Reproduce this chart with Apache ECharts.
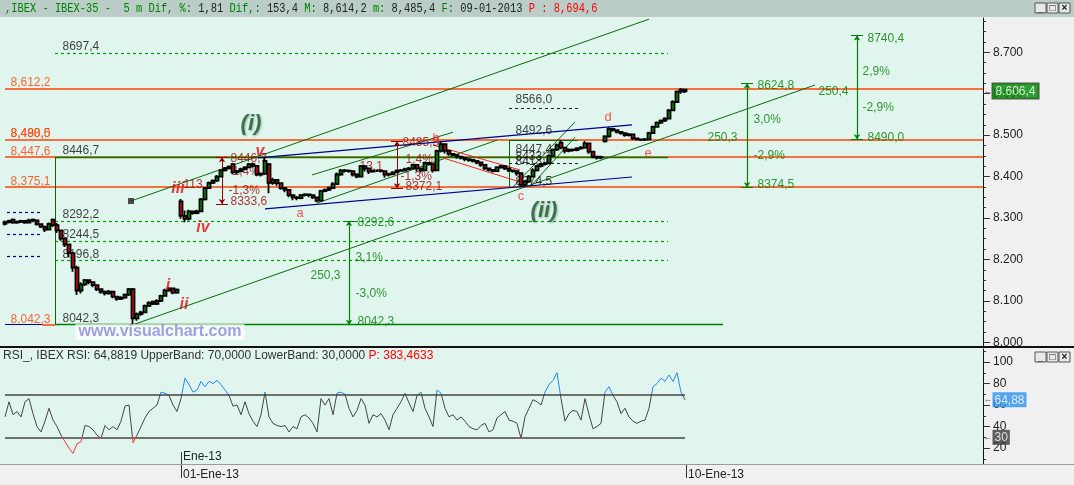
<!DOCTYPE html>
<html><head><meta charset="utf-8">
<script src="https://cdn.jsdelivr.net/npm/echarts@6/dist/echarts.min.js"></script>
<style>html,body{margin:0;padding:0;background:#f0f0f0;overflow:hidden}#c{width:1074px;height:485px}</style>
</head><body><div id="c"></div>
<script>
// ---------------- DATA ----------------
// 5-minute candles, IBEX-35: [open, close, low, high]
const candles = [
[8286,8290,8282,8294],[8290,8293,8287,8296],[8296,8289,8286,8299],[8289,8291,8286,8294],[8291,8293,8288,8296],
[8293,8289,8286,8295],[8289,8294,8287,8298],[8294,8296,8290,8299],[8294,8285,8281,8296],[8285,8279,8276,8287],
[8279,8272,8266,8281],[8272,8286,8270,8289],[8296,8283,8278,8299],[8283,8270,8264,8288],[8270,8250,8245,8272],
[8250,8236,8230,8252],[8236,8215,8205,8238],[8215,8180,8170,8218],[8180,8125,8114,8185],[8125,8140,8118,8145],
[8140,8150,8136,8153],[8150,8145,8140,8152],[8145,8138,8133,8147],[8138,8128,8124,8140],[8128,8122,8117,8130],
[8122,8118,8113,8125],[8118,8122,8115,8126],[8122,8110,8106,8124],[8110,8105,8100,8112],[8105,8108,8102,8111],
[8108,8115,8105,8118],[8115,8128,8112,8131],[8128,8058,8042,8131],[8058,8068,8052,8072],[8068,8072,8064,8076],
[8072,8088,8070,8091],[8088,8095,8085,8099],[8098,8093,8090,8101],[8093,8100,8090,8104],[8100,8112,8097,8115],
[8112,8125,8110,8129],[8125,8130,8122,8133],[8130,8120,8116,8132],[8120,8127,8117,8130],
[8340,8305,8298,8346],[8305,8298,8290,8318],[8298,8316,8294,8320],[8316,8312,8308,8318],[8312,8316,8309,8320],
[8316,8345,8314,8348],[8345,8372,8342,8375],[8372,8385,8370,8388],[8385,8390,8382,8393],[8390,8400,8387,8404],
[8400,8415,8398,8418],[8415,8420,8412,8423],[8420,8424,8417,8427],[8430,8410,8405,8433],[8410,8413,8407,8416],
[8413,8418,8410,8421],[8418,8422,8415,8425],[8422,8430,8420,8433],[8430,8426,8422,8434],[8426,8405,8401,8428],
[8405,8407,8400,8410],[8407,8438,8404,8447],[8430,8385,8360,8433],[8385,8392,8380,8397],[8392,8384,8378,8394],
[8384,8372,8368,8386],[8372,8368,8362,8375],[8368,8355,8350,8370],[8355,8350,8343,8357],[8350,8348,8343,8353],
[8348,8355,8345,8358],[8355,8357,8352,8360],[8357,8355,8350,8359],[8355,8350,8346,8357],[8350,8342,8338,8352],
[8342,8365,8340,8368],[8365,8368,8362,8371],[8368,8372,8365,8376],[8372,8382,8370,8387],[8382,8405,8380,8410],
[8405,8415,8402,8418],[8415,8414,8410,8418],[8414,8413,8409,8417],[8413,8405,8400,8415],[8405,8400,8396,8408],
[8400,8425,8398,8428],[8425,8420,8412,8428],[8420,8412,8406,8422],[8412,8414,8410,8417],[8414,8414,8411,8417],
[8414,8413,8410,8416],[8413,8405,8397,8414],[8405,8406,8400,8409],[8406,8410,8403,8413],[8410,8414,8408,8417],
[8414,8415,8412,8418],[8415,8418,8412,8421],[8418,8420,8415,8423],[8420,8428,8418,8431],[8428,8420,8412,8430],
[8420,8415,8410,8422],[8415,8433,8413,8436],[8433,8430,8426,8435],[8430,8415,8410,8432],[8415,8462,8413,8465],
[8462,8478,8458,8485],[8478,8462,8456,8480],[8462,8455,8450,8464],[8455,8452,8448,8457],[8452,8448,8443,8454],
[8448,8445,8441,8450],[8445,8442,8437,8447],[8442,8440,8436,8444],[8440,8438,8434,8442],[8438,8434,8430,8440],
[8434,8428,8424,8436],[8428,8420,8416,8430],[8420,8416,8412,8422],[8416,8413,8410,8418],[8413,8422,8411,8425],
[8422,8425,8419,8428],[8425,8420,8416,8427],[8420,8415,8411,8422],[8415,8413,8409,8417],[8413,8408,8402,8415],
[8408,8380,8374,8410],[8380,8388,8376,8392],[8388,8400,8385,8404],[8400,8415,8398,8420],[8415,8425,8412,8428],
[8425,8430,8422,8433],[8430,8432,8427,8436],[8432,8450,8430,8453],[8450,8465,8448,8468],[8465,8476,8462,8480],
[8482,8470,8466,8488],[8470,8462,8456,8472],[8462,8465,8459,8468],[8465,8464,8460,8468],[8464,8468,8461,8471],
[8468,8470,8465,8474],[8470,8480,8467,8486],[8480,8460,8455,8482],[8460,8448,8444,8462],[8448,8446,8441,8450],
[8446,8447,8442,8450],[8485,8497,8482,8500],[8497,8515,8494,8519],[8515,8512,8508,8518],[8512,8508,8504,8514],
[8508,8505,8501,8510],[8505,8500,8496,8507],[8500,8502,8497,8505],[8502,8492,8488,8504],[8492,8490,8487,8494],
[8490,8489,8486,8492],[8489,8490,8486,8493],[8490,8505,8488,8508],[8505,8520,8503,8523],[8520,8530,8518,8533],
[8530,8535,8527,8538],[8535,8540,8532,8543],[8540,8560,8538,8563],[8560,8580,8558,8584],[8580,8605,8578,8608],
[8605,8610,8600,8614],[8610,8606,8602,8612]
];
// RSI per bar
const rsi = [
49,63,51,54,49,63,66,52,40,35,45,
57,46,40,32,26,20,15,24,26,41,
40,37,32,29,41,37,40,37,45,59,
60,25,32,40,48,54,57,60,72,71,
69,60,54,66,85,79,72,74,82,77,
82,80,83,79,74,69,59,60,51,63,
52,45,40,51,72,49,43,41,40,41,
35,40,38,49,51,48,43,35,66,60,
66,51,71,72,70,57,49,55,66,60,
43,51,49,52,46,37,51,57,63,71,
62,54,69,72,57,49,40,74,71,57,
49,51,46,49,45,40,38,37,41,43,
35,37,48,51,54,46,45,43,29,49,
57,65,63,60,72,79,83,90,66,45,
52,55,54,46,66,51,38,40,43,72,
77,69,63,52,57,49,45,43,45,46,
57,77,80,85,82,88,82,90,72,64.9
];
const rsiBands = [70, 30];
const lastPrice = 8606.4;
const lastRsi = 64.88;
const priceLabelTicks = [8000,8100,8200,8300,8400,8500,8600,8700];
const priceMinorTicks = [8000,8025,8050,8075,8100,8125,8150,8175,8200,8225,8250,8275,8300,8325,8350,8375,8400,8425,8450,8475,8500,8525,8550,8575,8600,8625,8650,8675,8700,8725,8750,8775];
const rsiLabelTicks = [20,40,60,80,100];
const rsiMinorTicks = [10,20,30,40,50,60,70,80,90,100,110];
const dateTicks = [44, 170.25];
const dateLabels = ['01-Ene-13','10-Ene-13'];
const monthTick = [44];
const monthLabel = 'Ene-13';

// horizontal levels (price) drawn across the whole chart
const orangeLevels = [8612.2, 8488.5, 8447.6, 8375.1];
// fib levels: [price, fromBar, toBar]
const greenSolidLevels = [[8446.7, 12.5, 165.75], [8042.3, 12.5, 179.5]];
const greenDashedLevels = [[8697.4, 12.5, 165.75], [8292.2, 12.5, 165.75], [8244.5, 12.5, 165.75], [8196.8, 12.5, 165.75]];
const blueDashedLevels = [[8314.5, 0.5, 8.75], [8261.4, 0.5, 8.75], [8207.0, 0.5, 8.75]];
const blackDashedLevels = [[8566.0, 126, 143.25], [8433.0, 126, 143.25]];
// trend lines: [[bar, price], [bar, price]]
const channelLines = [
  [[31.5, 8341], [161, 8780]],
  [[32, 8042.3], [202.5, 8621]],
  [[76.75, 8404], [112, 8507]],
  [[78, 8336], [123, 8488]],
  [[127, 8375], [142.5, 8532]],
  [[131.25, 8375], [142.5, 8495]],
  [[12.5, 8446.7], [12.5, 8042.3]],
  [[126, 8488], [143.25, 8488]],
  [[126, 8488], [126, 8374.5]]
];
const blueLines = [
  [[63.25, 8445], [156.75, 8525]],
  [[65, 8322], [156.75, 8399]],
  [[0, 8042.3], [9.25, 8042.3]]
];
const orangeShort = [[[9.25, 8042.3], [12.5, 8042.3]]];
const redLines = [
  [[107, 8476], [128.75, 8416]],
  [[109.5, 8445], [128.75, 8387]]
];
// measuring arrows: [bar, top price, bottom price]
const maroonArrows = [[54.25, 8446.7, 8333.6], [98, 8485.3, 8372.1]];
const greenArrows = [[185.5, 8624.8, 8374.5], [213, 8740.4, 8490.0], [86, 8292.6, 8042.3]];
const anchorPoint = [[31.5, 8341]];

// text annotations: [bar, price, text]
const orangeTexts = [[1.25, 8626, '8,612,2'], [1.25, 8503, '8,488,5'], [1.25, 8503, '8,490,0'], [1.25, 8460, '8,447,6'], [1.25, 8387, '8,375,1'], [1.25, 8054, '8,042,3']];
const blackTexts = [[14.25, 8713, '8697,4'], [14.25, 8462, '8446,7'], [14.25, 8307, '8292,2'], [14.25, 8259, '8244,5'], [14.25, 8211, '8196,8'], [14.25, 8056, '8042,3'],
  [127.5, 8585, '8566,0'], [127.5, 8510, '8492,6'], [127.5, 8464, '8447,4'], [127.5, 8449, '8433,1'], [127.5, 8437, '8413,4'], [127.5, 8388, '8374,5']];
const maroonTexts = [[56.25, 8442, '8446,7'], [56.75, 8411, '1,4%'], [55.75, 8365, '-1,3%'], [56.25, 8339, '8333,6'], [44.5, 8380, '113'],
  [99.25, 8481, '8485,3'], [100, 8440, '1,4%'], [98.75, 8399, '-1,3%'], [100, 8375, '8372,1'], [88.5, 8423, '13,1']];
const greenTexts = [[188, 8619, '8624,8'], [187, 8537, '3,0%'], [187, 8450, '-2,9%'], [188, 8380, '8374,5'], [175.5, 8493, '250,3'],
  [215.5, 8734, '8740,4'], [214.25, 8652, '2,9%'], [214.25, 8566, '-2,9%'], [215.5, 8493, '8490,0'], [203.25, 8606, '250,4'],
  [88, 8288, '8292,6'], [87.5, 8203, '3,1%'], [87.5, 8117, '-3,0%'], [88, 8049, '8042,3'], [76.25, 8160, '250,3']];
const waveMajor = [[61.5, 8527, '(i)'], [134.75, 8317, '(ii)']];
const waveMinor = [[63.75, 8461, 'v'], [43.25, 8372, 'iii'], [49.5, 8276, 'iv'], [40.75, 8138, 'i'], [44.75, 8090, 'ii']];
const waveSub = [[73.75, 8312, 'a'], [107.75, 8491, 'b'], [129, 8351, 'c'], [150.75, 8544, 'd'], [160.75, 8457, 'e']];
const watermark = [[38.75, 8025, 'www.visualchart.com']];

// ---------------- CHART ----------------
const FONT = 'Liberation Sans';
const X_MIN = -1.25, X_MAX = 244.5;
const P_MIN = 7991, P_MAX = 8782.8;
const R_MIN = 5.2, R_MAX = 112.1;

const fmtPrice = v => { const s = String(Math.round(v)); return s[0] + '.' + s.slice(1); };
const fmtLast = v => { const s = v.toFixed(1).replace('.', ','); return s[0] + '.' + s.slice(1); };

function segSeries(list, color, width, type, z, sym, xi, yi) {
  return {type: 'lines', coordinateSystem: 'cartesian2d', xAxisIndex: xi || 0, yAxisIndex: yi || 0,
    silent: true, z: z || 2, animation: false, symbol: sym || 'none', symbolSize: 5,
    lineStyle: {color: color, width: width, type: type || 'solid', opacity: 1, curveness: 0},
    data: list.map(c => ({coords: c}))};
}
function textSeries(items, color, o) {
  o = o || {};
  return {type: 'scatter', xAxisIndex: 0, yAxisIndex: 0, symbolSize: 1, silent: true, z: o.z || 4, animation: false,
    itemStyle: {color: 'rgba(0,0,0,0)'},
    data: items.map(t => ({value: [t[0], t[1]], name: t[2]})),
    label: Object.assign({show: true, position: o.pos || 'right', distance: 0, formatter: p => p.name,
      color: color, fontSize: o.size || 12, fontFamily: FONT, fontWeight: o.weight || 'normal', fontStyle: o.style || 'normal'}, o.label || {})};
}
const levelSegs = arr => arr.map(l => [[l[1], l[0]], [l[2], l[0]]]);
const arrowSegs = arr => arr.map(a => [[a[0], a[1]], [a[0], a[2]]]);
const capSegs = arr => arr.flatMap(a => [[[a[0] - 1.5, a[1]], [a[0] + 1.5, a[1]]], [[a[0] - 1.5, a[2]], [a[0] + 1.5, a[2]]]]);

const chart = echarts.init(document.getElementById('c'));
const series = [
  {type: 'candlestick', xAxisIndex: 0, yAxisIndex: 0, z: 5, barWidth: 4, animation: false, silent: true,
    data: candles.map((c, i) => [i, c[0], c[1], c[2], c[3]]), encode: {x: 0, y: [1, 2, 3, 4]},
    itemStyle: {color: '#00b000', color0: '#ff1010', borderColor: '#000', borderColor0: '#000', borderWidth: 1.8}},
  {type: 'line', xAxisIndex: 1, yAxisIndex: 2, z: 5, animation: false, silent: true, symbol: 'none',
    data: rsi.map((v, i) => [i, v]), lineStyle: {width: 1}},
  segSeries(orangeLevels.map(p => [[0, p], [X_MAX, p]]), '#ff4000', 1.5, 'solid', 2),
  segSeries(orangeShort, '#ff4000', 1.5, 'solid', 2),
  segSeries(levelSegs(greenSolidLevels), '#008000', 1.3, 'solid', 3),
  segSeries(levelSegs(greenDashedLevels), '#00a000', 1.2, [3, 3], 3),
  segSeries(levelSegs(blueDashedLevels), '#000090', 1.2, [3, 3], 3),
  segSeries(levelSegs(blackDashedLevels), '#222', 1, [3, 3], 3),
  segSeries(channelLines, '#0a6a0a', 1, 'solid', 3),
  segSeries(blueLines, '#000090', 1.2, 'solid', 3),
  segSeries(redLines, '#ff2020', 1, 'solid', 3),
  segSeries(arrowSegs(maroonArrows), '#990000', 1, 'solid', 3, ['arrow', 'arrow']),
  segSeries(capSegs(maroonArrows), '#990000', 1, 'solid', 3),
  segSeries(arrowSegs(greenArrows), '#008000', 1.2, 'solid', 3, ['arrow', 'arrow']),
  segSeries(capSegs(greenArrows), '#008000', 1.2, 'solid', 3),
  segSeries(rsiBands.map(b => [[0, b], [170, b]]), '#444', 1.5, 'solid', 3, 'none', 1, 2),
  {type: 'scatter', xAxisIndex: 0, yAxisIndex: 0, symbol: 'rect', symbolSize: 6, z: 6, silent: true, animation: false,
    itemStyle: {color: '#222'}, data: anchorPoint},
  textSeries(orangeTexts, '#ff4000'),
  textSeries(blackTexts, '#111'),
  textSeries(maroonTexts, '#990000'),
  textSeries(greenTexts, '#008000'),
  textSeries(waveMajor, '#1d5a2c', {pos: 'inside', size: 22, weight: 'bold', style: 'italic', z: 7,
    label: {textShadowColor: 'rgba(60,120,80,0.6)', textShadowBlur: 2, textShadowOffsetX: 1, textShadowOffsetY: 1}}),
  textSeries(waveMinor, '#e01010', {pos: 'inside', size: 16, weight: 'bold', style: 'italic', z: 7}),
  textSeries(waveSub, '#ff2a2a', {pos: 'inside', size: 13, z: 7}),
  textSeries(watermark, '#8a8ad8', {pos: 'inside', size: 16, weight: 'bold', z: 7,
    label: {backgroundColor: 'rgba(255,255,255,0.85)', padding: [0, 3]}}),
  // last value boxes on the axes
  {type: 'scatter', xAxisIndex: 0, yAxisIndex: 0, symbolSize: 1, clip: false, silent: true, z: 8, animation: false,
    itemStyle: {color: 'rgba(0,0,0,0)'}, data: [[X_MAX, lastPrice]],
    label: {show: true, position: 'right', distance: 0, formatter: () => '{a|←}{b|' + fmtLast(lastPrice) + '}',
      rich: {a: {color: '#444', fontSize: 9, fontFamily: FONT},
             b: {color: '#fff', backgroundColor: '#008a00', borderColor: '#333', borderWidth: 1, padding: [2, 3, 1, 3], fontSize: 12, fontFamily: FONT}}}},
  {type: 'scatter', xAxisIndex: 1, yAxisIndex: 2, symbolSize: 1, clip: false, silent: true, z: 8, animation: false,
    itemStyle: {color: 'rgba(0,0,0,0)'}, data: [[X_MAX, lastRsi], [X_MAX, rsiBands[1]]],
    label: {show: true, position: 'right', distance: 0,
      formatter: p => p.dataIndex === 0 ? '{a|←}{b|' + lastRsi.toFixed(2).replace('.', ',') + '}' : '{a|←}{c|' + rsiBands[1] + '}',
      rich: {a: {color: '#444', fontSize: 9, fontFamily: FONT},
             b: {color: '#fff', backgroundColor: '#2f94ee', padding: [2, 2, 1, 2], fontSize: 12, fontFamily: FONT},
             c: {color: '#fff', backgroundColor: '#3a3a3a', padding: [2, 2, 1, 2], fontSize: 12, fontFamily: FONT}}}}
];

function winButtons(y) {
  const els = [];
  const glyphs = ['_', '□', '×'];
  for (let k = 0; k < 3; k++) {
    els.push({type: 'rect', shape: {x: 1035 + k * 12, y: y, width: 11, height: 10}, style: {fill: '#e8e8e8', stroke: '#555', lineWidth: 1}, z: 100});
    els.push({type: 'text', x: 1040.5 + k * 12, y: y + 5, style: {text: glyphs[k], fill: '#111', font: 'bold 10px ' + FONT, align: 'center', verticalAlign: 'middle'}, z: 101});
  }
  return els;
}

const MONO = '10.4px "Liberation Mono"';
const noZero = show => ({show: show, onZero: false, lineStyle: {color: '#111', width: 1}});
const option = {
  animation: false,
  backgroundColor: '#f0f0f0',
  textStyle: {fontFamily: FONT},
  grid: [
    {left: 0, top: 18, width: 983, height: 328, show: true, backgroundColor: '#e1f5ef', borderWidth: 0},
    {left: 0, top: 349, width: 983, height: 115, show: true, backgroundColor: '#e1f5ef', borderWidth: 0},
    {left: 0, top: 18, width: 983, height: 328, show: false},
    {left: 0, top: 349, width: 983, height: 115, show: false}
  ],
  xAxis: [
    {type: 'value', gridIndex: 0, min: X_MIN, max: X_MAX, show: false, axisLine: noZero(false)},
    {type: 'value', gridIndex: 1, min: X_MIN, max: X_MAX, position: 'bottom',
      axisLine: noZero(false), splitLine: {show: false},
      axisTick: {show: true, customValues: dateTicks, length: 14, lineStyle: {color: '#333'}},
      axisLabel: {show: true, customValues: dateTicks, formatter: v => dateLabels[dateTicks.indexOf(v)], align: 'left', margin: 5, color: '#222', fontSize: 12, padding: [0, 0, 0, 2]}},
    {type: 'value', gridIndex: 1, min: X_MIN, max: X_MAX, position: 'bottom',
      axisLine: noZero(false), splitLine: {show: false},
      axisTick: {show: true, inside: true, customValues: monthTick, length: 12, lineStyle: {color: '#333'}},
      axisLabel: {show: true, inside: true, customValues: monthTick, formatter: () => monthLabel, align: 'left', margin: 1, color: '#222', fontSize: 12, padding: [0, 0, 0, 2]}},
    {type: 'value', gridIndex: 2, min: X_MIN, max: X_MAX, show: false, axisLine: noZero(false)},
    {type: 'value', gridIndex: 3, min: X_MIN, max: X_MAX, show: false, axisLine: noZero(false)}
  ],
  yAxis: [
    {type: 'value', gridIndex: 0, position: 'right', min: P_MIN, max: P_MAX, splitLine: {show: false},
      axisLine: noZero(true),
      axisTick: {show: true, customValues: priceLabelTicks, length: 7, lineStyle: {color: '#333'}},
      axisLabel: {show: true, customValues: priceLabelTicks, formatter: fmtPrice, margin: 10, color: '#222', fontSize: 12}},
    {type: 'value', gridIndex: 2, position: 'right', min: P_MIN, max: P_MAX, splitLine: {show: false},
      axisLine: noZero(false), axisLabel: {show: false},
      axisTick: {show: true, customValues: priceMinorTicks, length: 3, lineStyle: {color: '#333'}}},
    {type: 'value', gridIndex: 1, position: 'right', min: R_MIN, max: R_MAX, splitLine: {show: false},
      axisLine: noZero(true),
      axisTick: {show: true, customValues: rsiLabelTicks, length: 7, lineStyle: {color: '#333'}},
      axisLabel: {show: true, customValues: rsiLabelTicks, margin: 10, color: '#222', fontSize: 12}},
    {type: 'value', gridIndex: 3, position: 'right', min: R_MIN, max: R_MAX, splitLine: {show: false},
      axisLine: noZero(false), axisLabel: {show: false},
      axisTick: {show: true, customValues: rsiMinorTicks, length: 3, lineStyle: {color: '#333'}}}
  ],
  visualMap: {show: false, type: 'piecewise', seriesIndex: 1, dimension: 1,
    pieces: [{lt: 30, color: '#ff3030'}, {gte: 30, lte: 70, color: '#444444'}, {gt: 70, color: '#1e88f0'}]},
  series: series,
  graphic: [
    {type: 'rect', shape: {x: 0, y: 0, width: 1074, height: 17}, style: {fill: '#bacdc7'}, z: 90},
    {type: 'text', x: 5, y: 9, scaleY: 1.25, z: 91, style: {verticalAlign: 'middle', font: MONO,
      text: '{g|,IBEX - IBEX-35 -  5 m Dif, %:}{k| 1,81 }{g|Dif,:}{k| 153,4 }{g|M:}{k| 8,614,2 }{g|m:}{k| 8,485,4 }{g|F:}{k| 09-01-2013 }{r|P : 8,694,6}',
      rich: {g: {fill: '#008000', font: MONO}, k: {fill: '#222', font: MONO}, r: {fill: '#ff0000', font: MONO}}}},
    {type: 'rect', shape: {x: 0, y: 346, width: 1074, height: 2}, style: {fill: '#111'}, z: 90},
    {type: 'text', x: 3, y: 356, z: 91, style: {verticalAlign: 'middle', font: '12px ' + FONT,
      text: '{k|RSI_, IBEX RSI: 64,8819 UpperBand: 70,0000 LowerBand: 30,0000 }{r|P: 383,4633}',
      rich: {k: {fill: '#333', font: '12px ' + FONT}, r: {fill: '#ff0000', font: '12px ' + FONT}}}},
    {type: 'rect', shape: {x: 0, y: 464, width: 1074, height: 1}, style: {fill: '#9a9a9a'}, z: 90}
  ].concat(winButtons(3), winButtons(352))
};
chart.setOption(option);
</script>
</body></html>
